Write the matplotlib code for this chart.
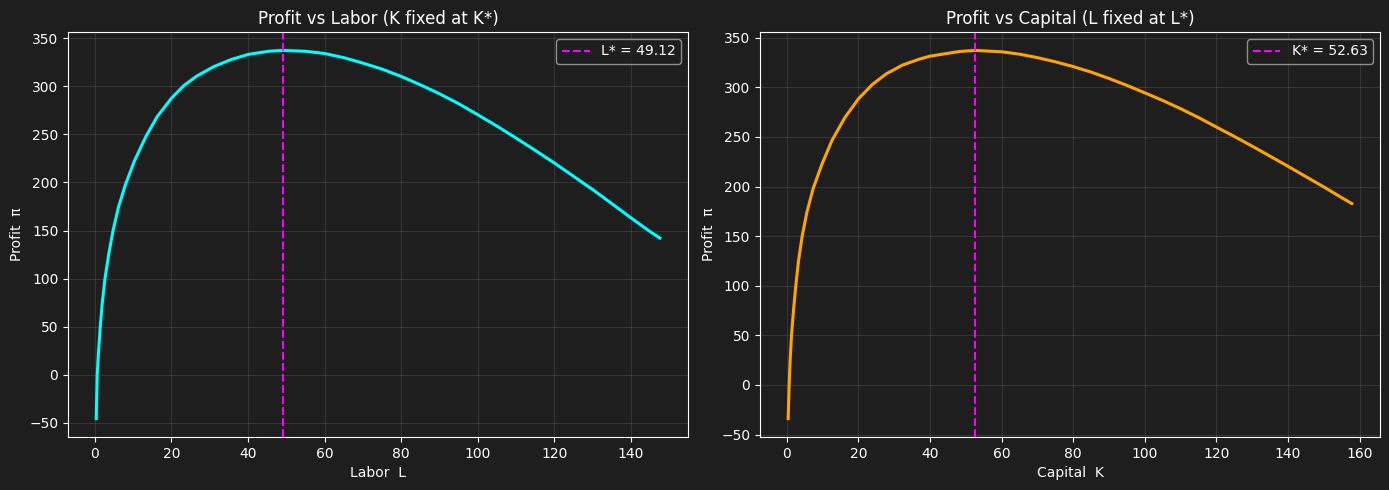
import matplotlib
matplotlib.use("Agg")
import matplotlib.pyplot as plt

# Left panel: profit vs labor (K fixed at K*)
labor = [0.35, 0.6, 0.96, 1.4, 1.93, 2.63, 3.6, 4.74, 6.14, 8.0, 10.4, 13.3, 16.3, 20,
         23.2, 26.6, 30.9, 35.3, 40, 45.6, 49.1, 55, 60, 65, 70, 75, 80, 85, 90, 95, 100,
         105, 110, 115, 120, 125, 130, 135, 140, 145, 147.6]
profit_L = [-45.5, 0, 25, 50, 75, 100, 125, 150, 174, 198, 223, 247.5, 268.5, 287.5,
            300.5, 310.5, 320, 327.3, 333, 336.4, 337.2, 336.3, 334, 329.7, 324, 317.8, 310.2,
            301.5, 292.2, 281.9, 270.4, 258.6, 246.2, 233.4, 220.3, 206.5, 192.7, 178.1,
            163.3, 149.0, 142.2]
L_star = 49.12

# Right panel: profit vs capital (L fixed at L*)
capital = [0.37, 0.65, 0.93, 1.3, 1.86, 2.5, 3.26, 4.28, 5.6, 7.3, 9.8, 12.6, 16.2, 20,
           23.9, 27.7, 32.3, 37, 40, 48.2, 52.6, 60, 65, 70, 75, 80, 85, 90, 95, 100, 105,
           110, 115, 120, 125, 130, 135, 140, 145, 150, 155, 157.8]
profit_K = [-34, 0, 25, 50, 75, 100, 125, 150, 174, 197.5, 222.5, 246.5, 269.5, 288.5,
            303, 313.5, 322.5, 328.5, 331.5, 336.2, 337.3, 335.9, 333.5, 330, 325.8, 321, 315.4,
            309, 302, 294.5, 286.8, 278.5, 269.6, 260, 250.5, 240.7, 230.6, 220.4, 210,
            199.6, 188.8, 182.9]
K_star = 52.63

BG = "#1e1e1e"
plt.rcParams.update({
    "figure.facecolor": BG,
    "axes.facecolor": BG,
    "axes.edgecolor": "white",
    "axes.labelcolor": "white",
    "xtick.color": "white",
    "ytick.color": "white",
    "text.color": "white",
})

fig, axes = plt.subplots(1, 2, figsize=(13.89, 4.9), dpi=100)

panels = [
    (axes[0], labor, profit_L, "cyan", L_star, "L* = 49.12", "Profit vs Labor (K fixed at K*)", "Labor  L"),
    (axes[1], capital, profit_K, "orange", K_star, "K* = 52.63", "Profit vs Capital (L fixed at L*)", "Capital  K"),
]
for ax, x, y, col, star, lab, title, xl in panels:
    ax.plot(x, y, color=col, linewidth=2.2, solid_joinstyle="round")
    ax.axvline(star, color="magenta", linestyle="--", linewidth=1.5, label=lab)
    ax.set_title(title, fontsize=12, color="white")
    ax.set_xlabel(xl)
    ax.set_ylabel("Profit  π")
    ax.grid(True, color="gray", alpha=0.25, linewidth=0.7)
    ax.legend(loc="upper right", facecolor=BG, edgecolor="#aaaaaa", labelcolor="white")
    for sp in ax.spines.values():
        sp.set_color("white")

fig.subplots_adjust(left=0.049, right=0.9935, top=0.9347, bottom=0.108, wspace=0.116)
fig.savefig("out.png", facecolor=BG)
